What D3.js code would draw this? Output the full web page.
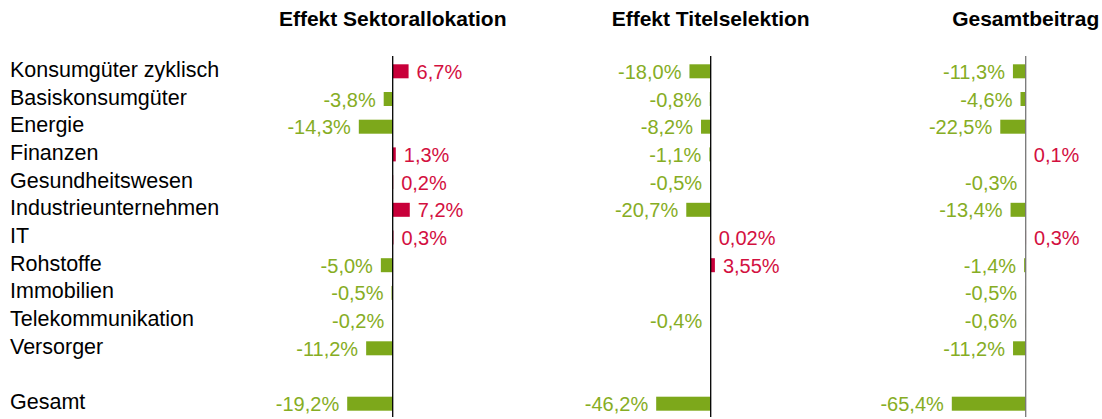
<!DOCTYPE html>
<html><head><meta charset="utf-8">
<script src="https://cdn.jsdelivr.net/npm/d3@7"></script>
<style>
html,body{margin:0;padding:0;background:#fff;}
svg{display:block;font-family:"Liberation Sans",Arial,sans-serif;}
</style></head>
<body>
<svg id="chart" width="1102" height="419"></svg>
<script>
const categories = ["Konsumgüter zyklisch","Basiskonsumgüter","Energie","Finanzen","Gesundheitswesen","Industrieunternehmen","IT","Rohstoffe","Immobilien","Telekommunikation","Versorger"];
const totalLabel = "Gesamt";
const panelTitles = ["Effekt Sektorallokation","Effekt Titelselektion","Gesamtbeitrag"];
const sektorallokation = [6.7,-3.8,-14.3,1.3,0.2,7.2,0.3,-5.0,-0.5,-0.2,-11.2];
const sektorallokationTotal = -19.2;
const titelselektion = [-18.0,-0.8,-8.2,-1.1,-0.5,-20.7,0.02,3.55,null,-0.4,null];
const titelselektionTotal = -46.2;
const gesamtbeitrag = [-11.3,-4.6,-22.5,0.1,-0.3,-13.4,0.3,-1.4,-0.5,-0.6,-11.2];
const gesamtbeitragTotal = -65.4;

const svg = d3.select("#chart");
const rowKeys = categories.concat(["__gap", totalLabel]);
const y = d3.scalePoint().domain(rowKeys).range([71.3, 403.7]);
const barH = 14;

const GREEN = "#7da81b", GREEN_T = "#86ad24", RED = "#c8003a", RED_T = "#d3103f";

const loc = d3.formatLocale({decimal:",", thousands:".", grouping:[3], currency:["","€"], minus:"-"});
function fmt(v){
  const t = v*10;
  const dec = Math.abs(t - Math.round(t)) < 1e-9 ? 1 : 2;
  return loc.format("."+dec+"f")(v) + "%";
}

// category labels
svg.append("g").selectAll("text").data(rowKeys.filter(k=>k!=="__gap")).join("text")
  .attr("x",10).attr("y",d=>y(d)+5.5)
  .attr("font-size","21.5px").attr("fill","#000").text(d=>d);

const panels = [
  {title:panelTitles[0], vals:sektorallokation, total:sektorallokationTotal, ax:392.7, k:2.37, axisColor:"#000"},
  {title:panelTitles[1], vals:titelselektion, total:titelselektionTotal, ax:710.7, k:1.18, axisColor:"#000"},
  {title:panelTitles[2], vals:gesamtbeitrag, total:gesamtbeitragTotal, ax:1025.7, k:1.13, axisColor:"#777"}
];

panels.forEach(p=>{
  const g = svg.append("g");
  const x = d3.scaleLinear().domain([0,1]).range([p.ax, p.ax+p.k]);
  const data = categories.map((c,i)=>({key:c, v:p.vals[i]})).concat([{key:totalLabel, v:p.total}])
    .filter(d=>d.v!==null && d.v!==undefined);
  g.append("text").attr("x",p.ax).attr("y",26).attr("text-anchor","middle")
    .attr("font-size","21px").attr("font-weight","bold").attr("fill","#000").text(p.title);
  g.selectAll("rect").data(data).join("rect")
    .attr("x",d=>Math.min(x(0),x(d.v)))
    .attr("width",d=>Math.abs(x(d.v)-x(0)))
    .attr("y",d=>y(d.key)-barH/2).attr("height",barH)
    .attr("fill",d=>d.v<0?GREEN:RED);
  g.append("line").attr("x1",p.ax).attr("x2",p.ax).attr("y1",56).attr("y2",417)
    .attr("stroke",p.axisColor).attr("stroke-width",1.3);
  g.selectAll("text.val").data(data).join("text").attr("class","val")
    .attr("x",d=>d.v<0? x(d.v)-8 : x(d.v)+8)
    .attr("y",d=>y(d.key)+7.5)
    .attr("text-anchor",d=>d.v<0?"end":"start")
    .attr("font-size","20px")
    .attr("fill",d=>d.v<0?GREEN_T:RED_T)
    .text(d=>fmt(d.v));
});
</script>
</body></html>
